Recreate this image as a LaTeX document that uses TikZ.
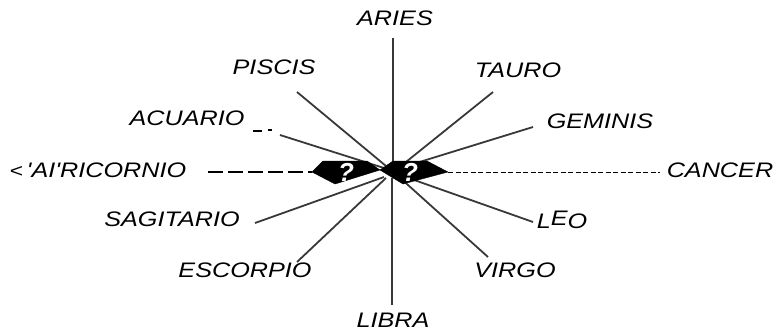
\documentclass[tikz,border=0pt]{standalone}
\usepackage{fontspec}
\newfontfamily\lab[FakeStretch=1.2]{Liberation Sans}
\newfontfamily\qfont{Liberation Sans}
\begin{document}
\begin{tikzpicture}[x=1pt,y=-1pt,
  lbl/.style={font=\lab\itshape\fontsize{21}{24}\selectfont, inner sep=0pt, text=black},
  ray/.style={draw=black!78, line width=1.8pt},
  diam/.style={fill=black, draw=black},
  qm/.style={font=\qfont\bfseries\itshape\fontsize{26}{26}\selectfont, text=white, inner sep=0pt}]
\useasboundingbox (0,0) rectangle (777,333);
% labels
\node[lbl] (aries) at (395,18) {ARIES};
\node[lbl] (piscis) at (274,67) {PISCIS};
\node[lbl] (tauro) at (518,70) {TAURO};
\node[lbl] (acuario) at (187,118) {ACUARIO};
\node[lbl] (geminis) at (600,121) {GEMINIS};
\node[lbl] (capri) at (98,170) {{\upshape\fontsize{19}{20}\selectfont <}\,'AI'RICORNIO};
\node[lbl] (cancer) at (720,170) {CANCER};
\node[lbl] (sagit) at (172,219) {SAGITARIO};
\node[lbl] (leo) at (562,220) {L\raisebox{2.5pt}{E}O};
\node[lbl] (escorp) at (245,270) {ESCORPIO};
\node[lbl] (virgo) at (515,270) {VIRGO};
\node[lbl] (libra) at (393,320) {LIBRA};
% line ends
\coordinate (eAries) at (393,38);
\coordinate (hAries) at (393,162);
\coordinate (eLibra) at (392,305);
\coordinate (hLibra) at (392,178);
\coordinate (eTauro) at (493,92);
\coordinate (hTauro) at (396,170);
\coordinate (ePiscis) at (297,92);
\coordinate (hPiscis) at (386,166);
\coordinate (eGem) at (533,127);
\coordinate (hGem) at (400,168);
\coordinate (eAcu) at (280,135);
\coordinate (hAcu) at (384,168);
\coordinate (eSag) at (255,223);
\coordinate (hSag) at (384,177);
\coordinate (eEsc) at (297,262);
\coordinate (hEsc) at (386,178);
\coordinate (eVir) at (488,257);
\coordinate (hVir) at (398,176);
\coordinate (eLeo) at (533,222);
\coordinate (hLeo) at (400,175);
\coordinate (eCap) at (208,172);
\coordinate (eCan) at (660,172);
% rays
\draw[ray] (eAries) -- (hAries);
\draw[ray] (eLibra) -- (hLibra);
\draw[ray] (eTauro) -- (hTauro);
\draw[ray] (ePiscis) -- (hPiscis);
\draw[ray] (eGem) -- (hGem);
\draw[ray] (eAcu) -- (hAcu);
\draw[ray] (eSag) -- (hSag);
\draw[ray] (eEsc) -- (hEsc);
\draw[ray] (eVir) -- (hVir);
\draw[ray] (eLeo) -- (hLeo);
\draw[black, line width=1.3pt] (253,131) -- (262,131) (268,130) -- (272,130);
% diamonds
\draw[diam] (312,172) -- (323,161) -- (367,161) -- (380,170) -- (335,184) -- cycle;
\draw[diam] (380,170) -- (393,161) -- (427,161) -- (448,172) -- (403,184) -- cycle;
\coordinate (dL) at (312,172);
\coordinate (dR) at (448,172);
\node[qm] (q1) at (346,172) {?};
\node[qm] (q2) at (410,172) {?};
% dashed connectors
\draw[black, line width=1.4pt, dash pattern=on 15pt off 5pt] (eCap) -- (dL);
\draw[black, line width=1pt, dash pattern=on 5pt off 2.5pt] (dR) -- (eCan);
\end{tikzpicture}
\end{document}
